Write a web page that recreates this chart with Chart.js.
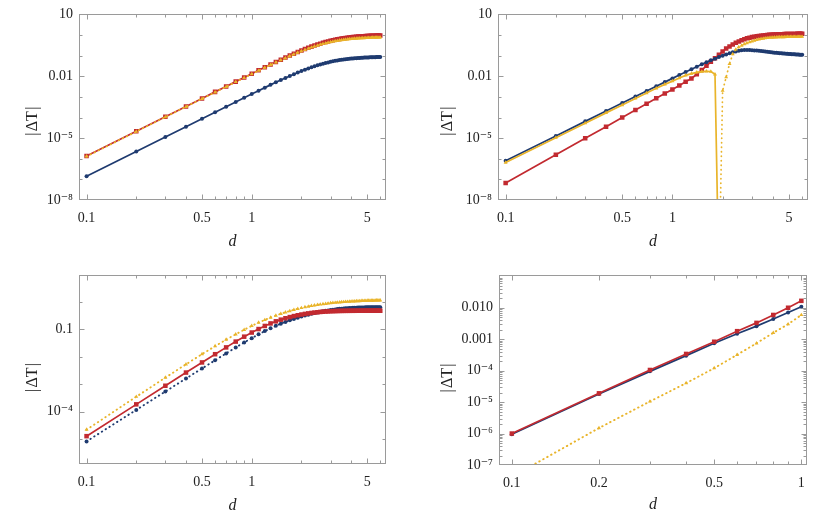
<!DOCTYPE html>
<html>
<head>
<meta charset="utf-8">
<script src="https://cdn.jsdelivr.net/npm/chart.js@4"></script>
<style>
  body { margin: 0; background: #fff; }
  .panel { position: absolute; }
</style>
</head>
<body>
<div class="panel" style="left:0;top:0;width:415px;height:260px"><canvas id="c1"></canvas></div>
<div class="panel" style="left:415px;top:0;width:415px;height:260px"><canvas id="c2"></canvas></div>
<div class="panel" style="left:0;top:260px;width:415px;height:259px"><canvas id="c3"></canvas></div>
<div class="panel" style="left:415px;top:260px;width:415px;height:259px"><canvas id="c4"></canvas></div>
<script>
// d values (panels 1-3 and panel 4)
const d = [0.1, 0.2, 0.3, 0.4, 0.5, 0.6, 0.7, 0.8, 0.9, 1.0,
  1.1, 1.2, 1.3, 1.4, 1.5, 1.6, 1.7, 1.8, 1.9, 2.0,
  2.1, 2.2, 2.3, 2.4, 2.5, 2.6, 2.7, 2.8, 2.9, 3.0,
  3.1, 3.2, 3.3, 3.4, 3.5, 3.6, 3.7, 3.8, 3.9, 4.0,
  4.1, 4.2, 4.3, 4.4, 4.5, 4.6, 4.7, 4.8, 4.9, 5.0,
  5.1, 5.2, 5.3, 5.4, 5.5, 5.6, 5.7, 5.8, 5.9, 6.0];
const dShort = [0.1, 0.2, 0.3, 0.4, 0.5, 0.6, 0.7, 0.8, 0.9, 1.0];

// panel 1
const p1Blue = [1.4e-7, 2.24e-6, 1.13e-5, 3.58e-5, 8.75e-5, 1.81e-4, 3.36e-4, 5.72e-4, 9.14e-4, 1.38e-3,
  2.0e-3, 2.81e-3, 3.83e-3, 5.08e-3, 6.57e-3, 8.33e-3, 0.0104, 0.0126, 0.0152, 0.0179,
  0.0209, 0.0241, 0.0273, 0.0306, 0.034, 0.0374, 0.0407, 0.044, 0.0471, 0.0502,
  0.0531, 0.0558, 0.0584, 0.0608, 0.063, 0.0651, 0.067, 0.0688, 0.0704, 0.0719,
  0.0733, 0.0746, 0.0758, 0.0768, 0.0778, 0.0787, 0.0795, 0.0803, 0.081, 0.0816,
  0.0822, 0.0828, 0.0833, 0.0836, 0.0841, 0.0845, 0.0849, 0.0852, 0.0855, 0.0857];
const p1Red = [1.35e-6, 2.16e-5, 1.09e-4, 3.46e-4, 8.44e-4, 1.75e-3, 3.23e-3, 5.5e-3, 8.78e-3, 0.0133,
  0.0194, 0.0272, 0.0371, 0.0493, 0.064, 0.0813, 0.101, 0.124, 0.15, 0.178,
  0.208, 0.24, 0.274, 0.309, 0.345, 0.382, 0.418, 0.454, 0.488, 0.522,
  0.555, 0.586, 0.616, 0.643, 0.67, 0.694, 0.717, 0.738, 0.758, 0.776,
  0.792, 0.808, 0.822, 0.835, 0.847, 0.858, 0.868, 0.878, 0.886, 0.894,
  0.901, 0.908, 0.914, 0.92, 0.925, 0.93, 0.934, 0.939, 0.942, 0.946];
const p1Yellow = [1.3e-6, 2.08e-5, 1.05e-4, 3.33e-4, 8.13e-4, 1.68e-3, 3.11e-3, 5.29e-3, 8.44e-3, 0.0128,
  0.0186, 0.0261, 0.0355, 0.047, 0.0608, 0.077, 0.0956, 0.117, 0.14, 0.165,
  0.192, 0.221, 0.25, 0.28, 0.311, 0.341, 0.371, 0.4, 0.428, 0.455,
  0.48, 0.504, 0.527, 0.548, 0.567, 0.586, 0.602, 0.618, 0.632, 0.645,
  0.657, 0.668, 0.678, 0.687, 0.696, 0.703, 0.71, 0.717, 0.723, 0.728,
  0.733, 0.738, 0.742, 0.746, 0.75, 0.753, 0.756, 0.759, 0.761, 0.764];

// panel 2
const p2Blue = [8.0e-7, 1.28e-5, 6.5e-5, 2.05e-4, 5.0e-4, 1.04e-3, 1.92e-3, 3.27e-3, 5.2e-3, 7.9e-3,
  0.0115, 0.0161, 0.0218, 0.0288, 0.038, 0.048, 0.059, 0.071, 0.085, 0.1,
  0.115, 0.13, 0.146, 0.16, 0.172, 0.181, 0.186, 0.188, 0.187, 0.184,
  0.18, 0.176, 0.172, 0.167, 0.163, 0.158, 0.154, 0.15, 0.147, 0.143,
  0.14, 0.137, 0.134, 0.132, 0.13, 0.128, 0.126, 0.124, 0.122, 0.121,
  0.12, 0.118, 0.117, 0.116, 0.115, 0.114, 0.113, 0.112, 0.111, 0.11];
const p2Red = [6.6e-8, 1.55e-6, 9.8e-6, 3.6e-5, 1.0e-4, 2.3e-4, 4.6e-4, 8.5e-4, 1.45e-3, 2.3e-3,
  3.6e-3, 5.4e-3, 7.8e-3, 0.0125, 0.02, 0.032, 0.05, 0.075, 0.11, 0.16,
  0.22, 0.28, 0.35, 0.42, 0.49, 0.56, 0.63, 0.69, 0.74, 0.79,
  0.83, 0.87, 0.9, 0.93, 0.96, 0.98, 1.0, 1.02, 1.04, 1.05,
  1.06, 1.07, 1.08, 1.09, 1.1, 1.1, 1.11, 1.11, 1.12, 1.12,
  1.12, 1.13, 1.13, 1.13, 1.13, 1.14, 1.14, 1.14, 1.14, 1.14];
const p2Yellow = [6.6e-7, 1.05e-5, 5.3e-5, 1.68e-4, 4.05e-4, 8.4e-4, 1.54e-3, 2.6e-3, 4.05e-3, 5.8e-3,
  8.2e-3, 0.011, 0.0135, 0.0155, 0.0168, 0.0174, 0.017, 0.0125, 1e-12, 0.002,
  0.009, 0.04, 0.12, 0.2, 0.26, 0.31, 0.36, 0.41, 0.45, 0.5,
  0.54, 0.58, 0.62, 0.65, 0.68, 0.7, 0.72, 0.74, 0.75, 0.76,
  0.77, 0.78, 0.79, 0.79, 0.8, 0.8, 0.8, 0.81, 0.81, 0.81,
  0.81, 0.82, 0.82, 0.82, 0.82, 0.82, 0.82, 0.83, 0.83, 0.83];
const p2YellowSignFlip = 1.9; // yellow is negative (dotted) from here on

// panel 3
const p3Blue = [8.2e-6, 1.15e-4, 5.36e-4, 1.6e-3, 3.71e-3, 7.36e-3, 0.0131, 0.0215, 0.033, 0.047,
  0.065, 0.085, 0.108, 0.132, 0.158, 0.184, 0.21, 0.236, 0.262, 0.288,
  0.313, 0.338, 0.362, 0.385, 0.407, 0.428, 0.448, 0.466, 0.483, 0.499,
  0.513, 0.526, 0.538, 0.549, 0.558, 0.567, 0.575, 0.582, 0.588, 0.594,
  0.599, 0.603, 0.607, 0.611, 0.614, 0.617, 0.62, 0.622, 0.624, 0.626,
  0.627, 0.628, 0.629, 0.63, 0.631, 0.632, 0.632, 0.633, 0.633, 0.634];
const p3Red = [1.27e-5, 1.83e-4, 8.7e-4, 2.63e-3, 6.15e-3, 0.01225, 0.0217, 0.0353, 0.0533, 0.0755,
  0.101, 0.131, 0.162, 0.193, 0.222, 0.25, 0.276, 0.3, 0.322, 0.342,
  0.36, 0.376, 0.39, 0.403, 0.414, 0.424, 0.432, 0.439, 0.445, 0.45,
  0.454, 0.457, 0.46, 0.462, 0.464, 0.465, 0.466, 0.467, 0.467, 0.468,
  0.468, 0.468, 0.469, 0.469, 0.469, 0.469, 0.469, 0.47, 0.47, 0.47,
  0.47, 0.47, 0.47, 0.47, 0.47, 0.47, 0.47, 0.47, 0.47, 0.47];
const p3Yellow = [2.19e-5, 3.47e-4, 1.72e-3, 5.26e-3, 0.0123, 0.0241, 0.0416, 0.0653, 0.0955, 0.1315,
  0.173, 0.217, 0.265, 0.314, 0.363, 0.413, 0.46, 0.507, 0.553, 0.594,
  0.633, 0.67, 0.705, 0.736, 0.768, 0.794, 0.821, 0.843, 0.865, 0.886,
  0.906, 0.923, 0.942, 0.955, 0.968, 0.981, 0.993, 1.003, 1.014, 1.021,
  1.033, 1.04, 1.047, 1.055, 1.062, 1.069, 1.074, 1.081, 1.084, 1.092,
  1.096, 1.1, 1.104, 1.107, 1.11, 1.113, 1.116, 1.119, 1.122, 1.125];

// panel 4
const p4Blue = [9.5e-7, 1.8e-5, 9.5e-5, 3.0e-4, 7.4e-4, 1.5e-3, 2.6e-3, 4.4e-3, 7.1e-3, 0.0107];
const p4Red = [1.0e-6, 1.9e-5, 1.05e-4, 3.4e-4, 8.3e-4, 1.8e-3, 3.3e-3, 5.9e-3, 0.01, 0.0166];
const p4Yellow = [4.2e-8, 1.5e-6, 1.05e-5, 4.0e-5, 1.2e-4, 3.2e-4, 7.4e-4, 1.6e-3, 3.0e-3, 5.9e-3];

// ticks
const xTicksWide = [0.1, 0.5, 1, 5];
const xLabelsWide = ['0.1', '0.5', '1', '5'];
const xMinorWide = [0.2, 0.3, 0.4, 0.6, 0.7, 0.8, 0.9, 2, 3, 4, 6];
const yTicksTop = [10, 0.01, 1e-5, 1e-8];
const yLabelsTop = ['10', '0.01', '10\u207B\u2075', '10\u207B\u2078'];
const yMinorTop = [1, 0.1, 1e-3, 1e-4, 1e-6, 1e-7];
const yTicks3 = [0.1, 1e-4];
const yLabels3 = ['0.1', '10\u207B\u2074'];
const yMinor3 = [1, 0.01, 1e-3, 1e-5];
const xTicks4 = [0.1, 0.2, 0.5, 1];
const xLabels4 = ['0.1', '0.2', '0.5', '1'];
const xMinor4 = [0.3, 0.4, 0.6, 0.7, 0.8, 0.9];
const yTicks4 = [0.01, 1e-3, 1e-4, 1e-5, 1e-6, 1e-7];
const yLabels4 = ['0.010', '0.001', '10\u207B\u2074', '10\u207B\u2075', '10\u207B\u2076', '10\u207B\u2077'];
const yMinor4 = [];
[1e-7, 1e-6, 1e-5, 1e-4, 1e-3, 1e-2].forEach(p => { for (let k = 2; k <= 9; k++) yMinor4.push(p * k); });

const BLUE = '#1f3b70';
const RED = '#c22a30';
const YELLOW = '#e9b42a';
const FONT = "'Liberation Serif', 'DejaVu Serif', serif";
const Y_TITLE = '|\u200A\u0394T\u200A|';

function pts(xs, ys) {
  return xs.map((x, i) => ({ x: x, y: ys[i] }));
}

function series(xs, ys, color, shape, radius, dotted, order) {
  return {
    data: pts(xs, ys),
    borderColor: color,
    backgroundColor: color,
    borderWidth: dotted ? 1.9 : 1.7,
    borderDash: dotted ? [0.5, 4] : [],
    borderCapStyle: dotted ? 'round' : 'butt',
    pointStyle: shape,
    pointRadius: radius,
    pointBorderWidth: 0,
    order: order
  };
}

// inward frame ticks on all four sides, like the original frame
const frameTicks = {
  id: 'frameTicks',
  afterDraw(chart, args, o) {
    const { ctx, chartArea: a } = chart;
    const xs = chart.scales.x, ys = chart.scales.y;
    ctx.save();
    ctx.strokeStyle = '#9a9a9a';
    ctx.lineWidth = 1;
    const L = Math.round(a.left) + 0.5, R = Math.round(a.right) - 0.5;
    const T = Math.round(a.top) + 0.5, B = Math.round(a.bottom) - 0.5;
    ctx.strokeRect(L, T, R - L, B - T);
    const seg = (x1, y1, x2, y2) => { ctx.beginPath(); ctx.moveTo(x1, y1); ctx.lineTo(x2, y2); ctx.stroke(); };
    const xt = (vals, len) => vals.forEach(v => {
      const p = Math.round(xs.getPixelForValue(v)) + 0.5;
      if (p < L || p > R) return;
      seg(p, B, p, B - len); seg(p, T, p, T + len);
    });
    const yt = (vals, len) => vals.forEach(v => {
      const p = Math.round(ys.getPixelForValue(v)) + 0.5;
      if (p < T - 0.5 || p > B + 0.5) return;
      seg(L, p, L + len, p); seg(R, p, R - len, p);
    });
    xt(o.xMajor, 5); xt(o.xMinor, 3);
    yt(o.yMajor, 5); yt(o.yMinor, 3);
    ctx.restore();
  }
};

function makePanel(id, p) {
  return new Chart(document.getElementById(id), {
    type: 'line',
    data: { datasets: p.datasets },
    plugins: [frameTicks],
    options: {
      responsive: true,
      maintainAspectRatio: false,
      animation: false,
      layout: { padding: { top: p.padTop, right: p.padRight, left: 0, bottom: 0 } },
      plugins: {
        legend: { display: false },
        tooltip: { enabled: false },
        frameTicks: { xMajor: p.xTicks, xMinor: p.xMinor, yMajor: p.yTicks, yMinor: p.yMinor }
      },
      scales: {
        x: {
          type: 'logarithmic',
          min: p.xMin, max: p.xMax,
          grid: { display: false, drawTicks: false },
          border: { display: false },
          afterBuildTicks: s => { s.ticks = p.xTicks.map(v => ({ value: v })); },
          afterFit: s => { s.height = p.xHeight; },
          ticks: {
            autoSkip: false, maxRotation: 0, padding: 10,
            color: '#222', font: { family: FONT, size: 14 },
            callback: (v, i) => p.xLabels[i]
          },
          title: {
            display: true, text: 'd', color: '#222',
            font: { family: FONT, size: 16, style: 'italic' },
            padding: { top: 0, bottom: p.xTitlePad }
          }
        },
        y: {
          type: 'logarithmic',
          min: p.yMin, max: p.yMax,
          grid: { display: false, drawTicks: false },
          border: { display: false },
          afterBuildTicks: s => { s.ticks = p.yTicks.map(v => ({ value: v })); },
          afterFit: s => { s.width = p.yWidth; },
          ticks: {
            autoSkip: false, padding: 6,
            color: '#222', font: { family: FONT, size: 14 },
            callback: (v, i) => p.yLabels[i]
          },
          title: {
            display: true, text: p.yTitle, color: '#222',
            font: { family: FONT, size: 16 },
            padding: { top: 23.4, bottom: 0 }
          }
        }
      }
    }
  });
}

const flipIdx = d.indexOf(p2YellowSignFlip);
const p2YellowSet = series(d, p2Yellow, YELLOW, 'triangle', 2.3, false, 0);
p2YellowSet.borderCapStyle = 'round';
p2YellowSet.segment = { borderDash: c => (c.p0DataIndex >= flipIdx ? [0.5, 4] : undefined) };

makePanel('c1', {
  padTop: 10, padRight: 29, yWidth: 79, xHeight: 60, xTitlePad: 8.4,
  xMin: 0.09, xMax: 6.5, yMin: 1e-8, yMax: 10,
  xTicks: xTicksWide, xLabels: xLabelsWide, xMinor: xMinorWide,
  yTicks: yTicksTop, yLabels: yLabelsTop, yMinor: yMinorTop,
  yTitle: Y_TITLE + '       ',
  datasets: [
    series(d, p1Yellow, YELLOW, 'triangle', 2.3, true, 0),
    series(d, p1Red, RED, 'rect', 3.2, false, 1),
    series(d, p1Blue, BLUE, 'circle', 2, false, 2)
  ]
});

makePanel('c2', {
  padTop: 10, padRight: 22, yWidth: 83, xHeight: 60, xTitlePad: 8.4,
  xMin: 0.09, xMax: 6.5, yMin: 1e-8, yMax: 10,
  xTicks: xTicksWide, xLabels: xLabelsWide, xMinor: xMinorWide,
  yTicks: yTicksTop, yLabels: yLabelsTop, yMinor: yMinorTop,
  yTitle: Y_TITLE + '       ',
  datasets: [
    p2YellowSet,
    series(d, p2Blue, BLUE, 'circle', 2, false, 1),
    series(d, p2Red, RED, 'rect', 3.2, false, 2)
  ]
});

makePanel('c3', {
  padTop: 15, padRight: 29, yWidth: 79, xHeight: 55, xTitlePad: 3.4,
  xMin: 0.09, xMax: 6.5, yMin: 1.23e-6, yMax: 9.4,
  xTicks: xTicksWide, xLabels: xLabelsWide, xMinor: xMinorWide,
  yTicks: yTicks3, yLabels: yLabels3, yMinor: yMinor3,
  yTitle: Y_TITLE + '    ',
  datasets: [
    series(d, p3Red, RED, 'rect', 3.2, false, 0),
    series(d, p3Blue, BLUE, 'circle', 2, true, 1),
    series(d, p3Yellow, YELLOW, 'triangle', 2.3, true, 2)
  ]
});

makePanel('c4', {
  padTop: 15, padRight: 23, yWidth: 84, xHeight: 54, xTitlePad: 4.4,
  xMin: 0.0903, xMax: 1.046, yMin: 1e-7, yMax: 0.11,
  xTicks: xTicks4, xLabels: xLabels4, xMinor: xMinor4,
  yTicks: yTicks4, yLabels: yLabels4, yMinor: yMinor4,
  yTitle: Y_TITLE + '    ',
  datasets: [
    series(dShort, p4Red, RED, 'rect', 3.2, false, 0),
    series(dShort, p4Blue, BLUE, 'circle', 2, false, 1),
    series(dShort, p4Yellow, YELLOW, 'triangle', 2.3, true, 2)
  ]
});
</script>
</body>
</html>
